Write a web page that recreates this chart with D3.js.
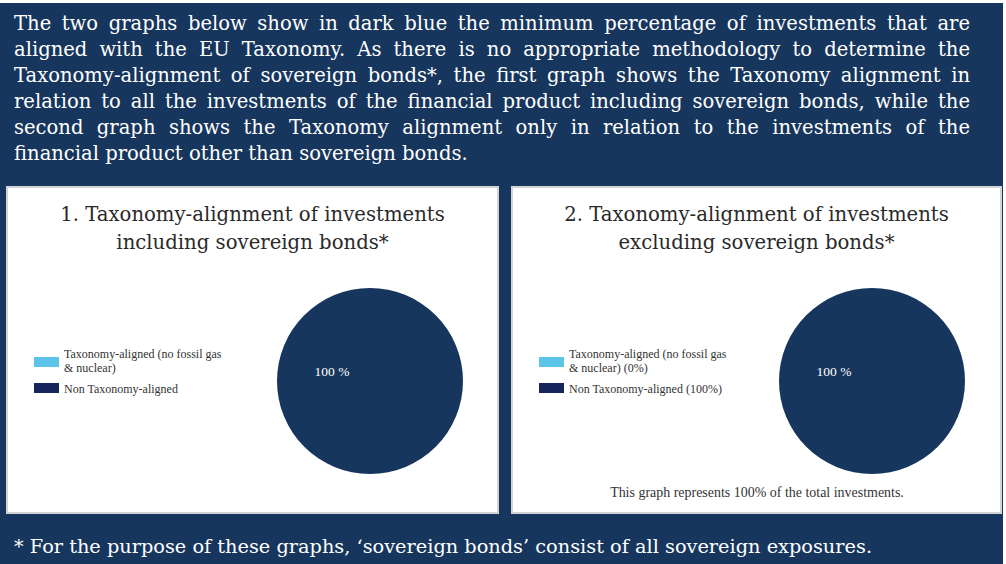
<!DOCTYPE html>
<html>
<head>
<meta charset="utf-8">
<script src="https://cdn.jsdelivr.net/npm/d3@7"></script>
<style>
  html, body { margin: 0; padding: 0; background: #fff; }
  svg { display: block; }
</style>
</head>
<body>
<div id="chart"></div>
<script>
// ---- data
const introLines = [
  "The two graphs below show in dark blue the minimum percentage of investments that are",
  "aligned with the EU Taxonomy. As there is no appropriate methodology to determine the",
  "Taxonomy-alignment of sovereign bonds*, the first graph shows the Taxonomy alignment in",
  "relation to all the investments of the financial product including sovereign bonds, while the",
  "second graph shows the Taxonomy alignment only in relation to the investments of the",
  "financial product other than sovereign bonds."
];
const chartTitles = [
  ["1. Taxonomy-alignment of investments", "including sovereign bonds*"],
  ["2. Taxonomy-alignment of investments", "excluding sovereign bonds*"]
];
const categories = ["Taxonomy-aligned", "Non Taxonomy-aligned"];
const legendLabels1 = [["Taxonomy-aligned (no fossil gas", "& nuclear)"], ["Non Taxonomy-aligned"]];
const legendLabels2 = [["Taxonomy-aligned (no fossil gas", "& nuclear) (0%)"], ["Non Taxonomy-aligned (100%)"]];
const values1 = [0, 100];
const values2 = [0, 100];
const sliceLabels = ["100 %", "100 %"];
const panelNotes = ["", "This graph represents 100% of the total investments."];
const footnote = "* For the purpose of these graphs, \u2018sovereign bonds\u2019 consist of all sovereign exposures.";

// ---- layout
const W = 1006, H = 564;
const navy = "#17365d";
const serif = "'DejaVu Serif', 'Liberation Serif', serif";
const serifSmall = "'Liberation Serif', serif";

const svg = d3.select("#chart").append("svg")
  .attr("width", W).attr("height", H);

// scale a text's font size so its width hits the target (Palatino is wider than what we have)
function fitWidth(sel, target) {
  const fs = +sel.attr("font-size");
  const w = sel.node().getComputedTextLength();
  const nfs = fs * target / w;
  sel.attr("font-size", nfs);
  return nfs;
}

svg.append("rect").attr("x", 0).attr("y", 3).attr("width", 1003).attr("height", H - 3)
  .attr("fill", navy);

// intro paragraph, justified line by line
const introX = 14, introRight = 970, introTop = 30, lineH = 26;
const probe = svg.append("text").attr("font-family", serif).attr("font-size", 20)
  .text(introLines[introLines.length - 1]);
const introFs = fitWidth(probe, 454);
probe.remove();

introLines.forEach((line, i) => {
  const t = svg.append("text")
    .attr("x", introX).attr("y", introTop + i * lineH)
    .attr("fill", "#fff")
    .attr("font-family", serif)
    .attr("font-size", introFs)
    .text(line);
  if (i < introLines.length - 1) {
    const spaces = line.split(" ").length - 1;
    const natural = t.node().getComputedTextLength();
    t.attr("word-spacing", (introRight - introX - natural) / spaces);
  }
});

// panels
const panels = [
  { x: 7, w: 491, values: values1, legend: legendLabels1, cx: 370 },
  { x: 512, w: 489, values: values2, legend: legendLabels2, cx: 872 }
];
const panelTop = 187, panelBottom = 513;

const color = d3.scaleOrdinal().domain(categories).range(["#5bc4e8", "#17365d"]);
const swatchColor = d3.scaleOrdinal().domain(categories).range(["#5bc4e8", "#16255a"]);

const pie = d3.pie().sort(null).value(d => d.value);
const arc = d3.arc().innerRadius(0).outerRadius(93);

panels.forEach((p, i) => {
  const g = svg.append("g");

  g.append("rect")
    .attr("x", p.x).attr("y", panelTop)
    .attr("width", p.w).attr("height", panelBottom - panelTop)
    .attr("fill", "#fff")
    .attr("stroke", "#d4d4d4").attr("stroke-width", 2);

  // title
  let titleFs = null;
  chartTitles[i].forEach((s, k) => {
    const t = g.append("text")
      .attr("x", p.x + p.w / 2).attr("y", 221 + k * 28)
      .attr("text-anchor", "middle")
      .attr("fill", "#2a2a2a")
      .attr("font-family", serif)
      .attr("font-size", titleFs || 18)
      .text(s);
    if (k === 0) titleFs = fitWidth(t, 385);
  });

  // legend
  const lx = p.x + 27;
  const rows = [{ y: 357, lines: p.legend[0], cat: categories[0] },
                { y: 383, lines: p.legend[1], cat: categories[1] }];
  rows.forEach(r => {
    g.append("rect")
      .attr("x", lx).attr("y", r.y)
      .attr("width", 25).attr("height", 10)
      .attr("fill", swatchColor(r.cat));
    r.lines.forEach((s, k) => {
      g.append("text")
        .attr("x", lx + 30).attr("y", r.y + 1 + (r.lines.length > 1 ? 0 : 9) + k * 14)
        .attr("fill", "#333")
        .attr("font-family", serifSmall)
        .attr("font-size", 12)
        .text(s);
    });
  });

  // pie
  const data = categories.map((c, k) => ({ cat: c, value: p.values[k] }));
  const pg = g.append("g").attr("transform", `translate(${p.cx},381)`);
  pg.selectAll("path")
    .data(pie(data))
    .join("path")
    .attr("d", arc)
    .attr("fill", d => color(d.data.cat));

  pg.append("text")
    .attr("x", -38).attr("y", -5)
    .attr("text-anchor", "middle")
    .attr("fill", "#fff")
    .attr("font-family", serifSmall)
    .attr("font-size", 13.5)
    .text(sliceLabels[i]);

  if (panelNotes[i]) {
    const n = g.append("text")
      .attr("x", 757).attr("y", 497)
      .attr("text-anchor", "middle")
      .attr("fill", "#333")
      .attr("font-family", serifSmall)
      .attr("font-size", 11)
      .text(panelNotes[i]);
    fitWidth(n, 294);
  }
});

// footnote
const fn = svg.append("text")
  .attr("x", introX).attr("y", 553)
  .attr("fill", "#fff")
  .attr("font-family", serif)
  .attr("font-size", introFs)
  .text(footnote);
fitWidth(fn, 858);
</script>
</body>
</html>
